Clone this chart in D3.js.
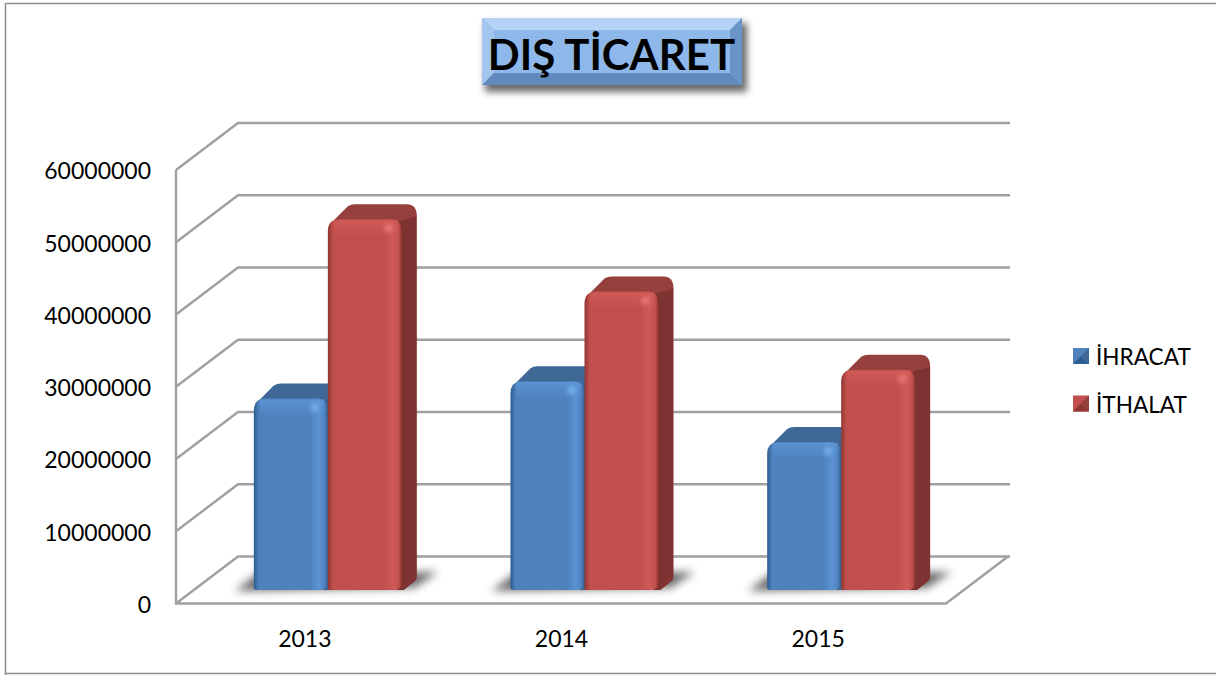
<!DOCTYPE html>
<html><head><meta charset="utf-8">
<script src="https://cdn.jsdelivr.net/npm/d3@7/dist/d3.min.js"></script>
<style>html,body{margin:0;padding:0;background:#fff}svg{display:block;font-family:Lato,"Open Sans",sans-serif}</style>
</head><body><div id="c"></div>
<script>
const categories=["2013","2014","2015"];
const seriesNames=["İHRACAT","İTHALAT"];
const ihracat=[26500000,28900000,20500000];
const ithalat=[51300000,41300000,30500000];
const tickValues=[0,10000000,20000000,30000000,40000000,50000000,60000000];
const titleText="DIŞ TİCARET";

const W=1216,H=675;
const svg=d3.select("#c").append("svg").attr("width",W).attr("height",H);
const defs=svg.append("defs");
const pal=[{base:"#4f81bd",light:"#5b93d3",dark:"#2f5d8f",top:"#3f6797",side:"#3a6493",hi:"#7cb8f5"},
           {base:"#c0504d",light:"#d05a57",dark:"#8f3532",top:"#95403d",side:"#7f3230",hi:"#f08480"}];
pal.forEach((p,i)=>{
  const g=defs.append("linearGradient").attr("id","front"+i);
  [[0,p.dark],[.07,p.base],[.76,p.base],[.88,p.light],[.96,p.base],[1,p.dark]].forEach(s=>g.append("stop").attr("offset",s[0]).attr("stop-color",s[1]));
  const t=defs.append("linearGradient").attr("id","cap"+i).attr("x1",0).attr("x2",0).attr("y1",0).attr("y2",1);
  [[0,p.light],[1,p.light+"00"]].forEach(s=>t.append("stop").attr("offset",s[0]).attr("stop-color",s[1]));
});
const mkBlur=(id,sd)=>defs.append("filter").attr("id",id).attr("x","-30%").attr("y","-60%").attr("width","160%").attr("height","220%")
  .append("feGaussianBlur").attr("stdDeviation",sd);
mkBlur("blur",4.5);mkBlur("blur1",3.5);mkBlur("soft",.6);mkBlur("hi",2);

// frame
svg.append("path").attr("d",`M5.5 ${H}V3.5H${W}`).attr("fill","none").attr("stroke","#8c8c8c").attr("stroke-width",1.5);
svg.append("path").attr("d",`M5 673.5H${W}`).attr("fill","none").attr("stroke","#8c8c8c").attr("stroke-width",1.5);

// 3-D frame layout
const x0=176,x1=946,dx=62,dy=-47,backExtra=2;
const y=d3.scaleLinear().domain([0,60000000]).range([603.5,170]);
const x=d3.scaleBand().domain(categories).range([x0,x1]);
const grid=svg.append("g").attr("fill","none").attr("stroke","#a0a0a0").attr("stroke-width",2.4);
tickValues.forEach(v=>{
  grid.append("path").attr("d",`M${x0} ${y(v)}L${x0+dx} ${y(v)+dy}H${x1+dx+backExtra}`);
});
grid.append("path").attr("d",`M${x0} ${y(60000000)}V${y(0)}H${x1}L${x1+dx} ${y(0)+dy}`);

// y labels
const yAxis=d3.axisLeft(y).tickValues(tickValues).tickSize(0).tickPadding(0).tickFormat(d3.format("d"));
const ya=svg.append("g").attr("transform",`translate(151,1.5)`).call(yAxis);
ya.select(".domain").remove();
ya.selectAll("text").attr("font-family","Lato").attr("font-size",23).attr("fill","#000");

// x labels
svg.append("g").selectAll("text").data(categories).join("text")
 .attr("x",d=>x(d)+x.bandwidth()/2+.5).attr("y",647).attr("text-anchor","middle")
 .attr("font-size",23).attr("fill","#000").text(d=>d);

// bars
const baseY=590,barW=74,depthX=15,depthY=15,r=12;
const yBar=v=>baseY-(y(0)-y(v));
const gap=(x.bandwidth()-2*barW)/2;
const bars=svg.append("g");
categories.forEach((c,ci)=>{
  const left=x(c)+gap+23.5;
  bars.append("path").attr("d",`M${left-19} ${baseY+1}L${left+6} ${baseY-18}H${left+2*barW+36}L${left+2*barW+12} ${baseY-2}Z`)
    .attr("fill","#3a3a3a").attr("opacity",.75).attr("filter","url(#blur)");
});
categories.forEach((c,ci)=>{
  const left=x(c)+gap+23.5;
  [ihracat,ithalat].forEach((arr,si)=>{
    const p=pal[si],v=arr[ci],X=left+si*barW,T=yBar(v);
    const g=bars.append("g").attr("filter","url(#soft)");
    // top face
    g.append("path").attr("d",`M${X+2} ${T+5}L${X+depthX+5} ${T-depthY+2}Q${X+depthX+8} ${T-depthY} ${X+depthX+12} ${T-depthY}H${X+barW+depthX-10}Q${X+barW+depthX} ${T-depthY} ${X+barW+depthX} ${T-depthY+12}L${X+barW} ${T+10}Z`).attr("fill",p.top);
    // side face
    g.append("path").attr("d",`M${X+barW-5} ${T+3}L${X+barW+depthX} ${T-depthY+12}V${baseY-depthY+2}Q${X+barW+depthX} ${baseY-depthY+5} ${X+barW+depthX-3} ${baseY-depthY+7}L${X+barW+2} ${baseY}H${X+barW-5}Z`).attr("fill",p.side);
    // front
    g.append("path").attr("d",`M${X} ${baseY-2}V${T+r}Q${X} ${T} ${X+r} ${T}H${X+barW-r}Q${X+barW} ${T} ${X+barW} ${T+r}V${baseY-7}Q${X+barW} ${baseY} ${X+barW-8} ${baseY}H${X+2}Q${X} ${baseY} ${X} ${baseY-2}Z`).attr("fill",`url(#front${si})`);
    g.append("rect").attr("x",X+6).attr("y",T+1).attr("width",barW-10).attr("height",16).attr("fill",`url(#cap${si})`);
    bars.append("ellipse").attr("cx",X+barW-13).attr("cy",T+9).attr("rx",4).attr("ry",4).attr("fill",p.hi).attr("opacity",.8).attr("filter","url(#hi)");
  });
});

// legend
const lg=svg.append("g");
seriesNames.forEach((n,i)=>{
  const p=pal[i],ly=356+i*47.5,lx=1073,s=16;
  const sq=lg.append("g").attr("filter","url(#soft)");
  sq.append("rect").attr("x",lx).attr("y",ly-8).attr("width",s).attr("height",s).attr("fill",p.base);
  sq.append("path").attr("d",`M${lx} ${ly+8}L${lx+8} ${ly}L${lx+16} ${ly+8}Z`).attr("fill",p.dark);
  sq.append("path").attr("d",`M${lx+16} ${ly-8}L${lx+8} ${ly}L${lx+16} ${ly+8}Z`).attr("fill",p.top);
  lg.append("text").attr("x",1096).attr("y",ly+9).attr("font-size",22.6).attr("fill","#000").text(n);
});

// title
const tx=482,ty=18,tw=260,th=67,be=12;
const tg=svg.append("g");
tg.append("rect").attr("x",tx+3).attr("y",ty+5).attr("width",tw+2).attr("height",th+2).attr("fill","#444").attr("opacity",.8).attr("filter","url(#blur1)");
const tb=tg.append("g").attr("filter","url(#soft)");
tb.append("rect").attr("x",tx).attr("y",ty).attr("width",tw).attr("height",th).attr("fill","#8fb8ea");
tb.append("path").attr("d",`M${tx} ${ty}H${tx+tw}L${tx+tw-be} ${ty+be}H${tx+be}Z`).attr("fill","#b4d3f5");
tb.append("path").attr("d",`M${tx} ${ty}V${ty+th}L${tx+be} ${ty+th-be}V${ty+be}Z`).attr("fill","#a3c6ef");
tb.append("path").attr("d",`M${tx+tw} ${ty}V${ty+th}L${tx+tw-be} ${ty+th-be}V${ty+be}Z`).attr("fill","#6a93c8");
tb.append("path").attr("d",`M${tx} ${ty+th}H${tx+tw}L${tx+tw-be} ${ty+th-be}H${tx+be}Z`).attr("fill","#6289bd");
tg.append("text").attr("x",tx+tw/2-.5).attr("y",69.5).attr("text-anchor","middle").attr("font-size",42).attr("font-weight",700).attr("font-family","Lato").attr("fill","#000").text(titleText);
</script></body></html>
